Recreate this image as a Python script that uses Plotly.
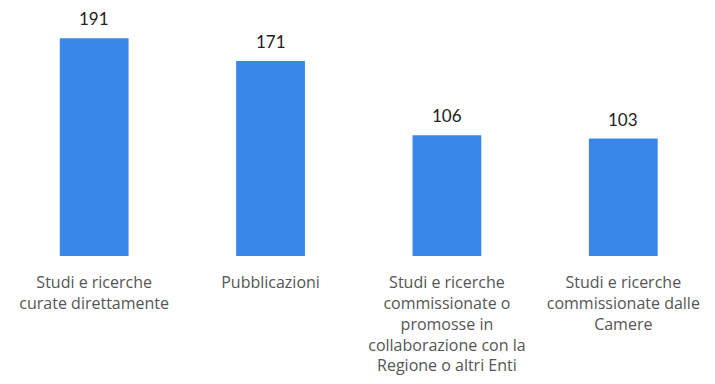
import plotly.graph_objects as go

categories = [
    "Studi e ricerche<br>curate direttamente",
    "Pubblicazioni",
    "Studi e ricerche<br>commissionate o<br>promosse in<br>collaborazione con la<br>Regione o altri Enti",
    "Studi e ricerche<br>commissionate dalle<br>Camere",
]
values = [191, 171, 106, 103]

bar_color = "#3a87ea"
positions = list(range(len(categories)))

fig = go.Figure(
    go.Bar(
        x=positions,
        y=values,
        marker=dict(color=bar_color, line=dict(width=0)),
        width=0.39,
    )
)

# value labels above each bar
for pos, val in zip(positions, values):
    fig.add_annotation(
        x=pos,
        y=val,
        text=str(val),
        showarrow=False,
        yanchor="bottom",
        yshift=7,
        font=dict(family="Lato, sans-serif", size=17, color="#222222"),
    )

fig.update_layout(
    width=715,
    height=384,
    margin=dict(l=6, r=0, t=28, b=128),
    paper_bgcolor="white",
    plot_bgcolor="white",
    showlegend=False,
    font=dict(family="Open Sans, sans-serif"),
)
fig.update_xaxes(
    range=[-0.5, 3.52],
    tickmode="array",
    tickvals=positions,
    ticktext=categories,
    tickfont=dict(family="Open Sans, sans-serif", size=16, color="#555555"),
    showline=False,
    showgrid=False,
    zeroline=False,
    ticks="outside",
    ticklen=12,
    tickcolor="rgba(0,0,0,0)",
)
fig.update_yaxes(range=[0, 200], visible=False)

fig.write_html("out.html")
